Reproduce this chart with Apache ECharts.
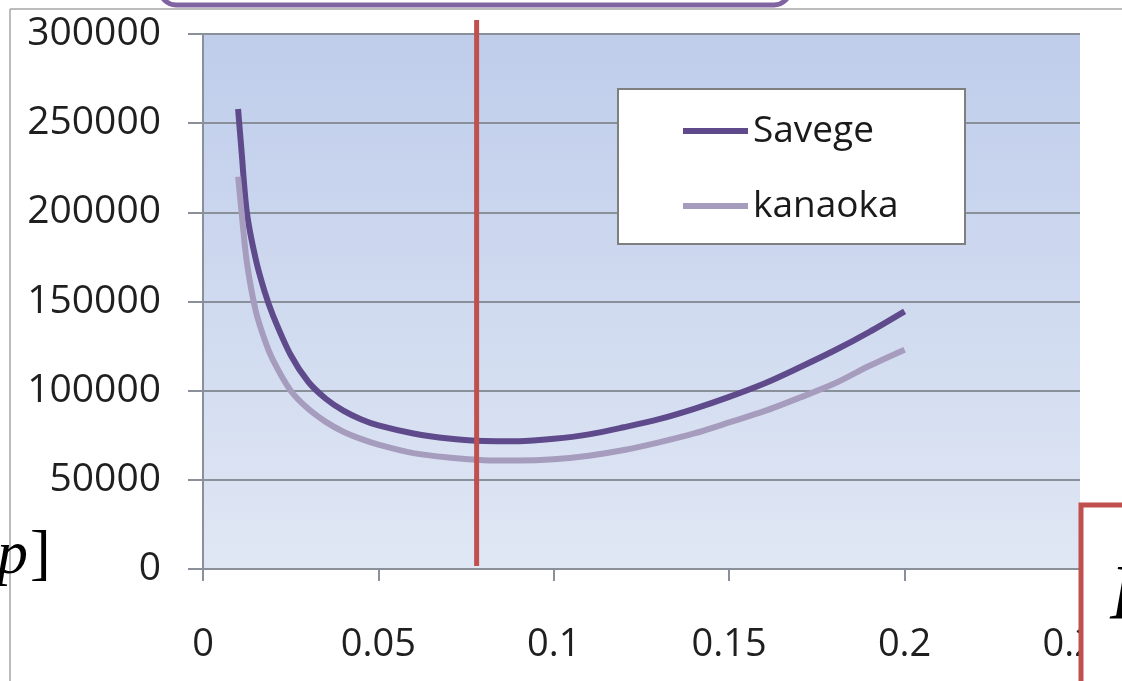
<!DOCTYPE html>
<html>
<head>
<meta charset="utf-8">
<script src="https://cdn.jsdelivr.net/npm/echarts@6/dist/echarts.min.js"></script>
<style>
html,body{margin:0;padding:0;background:#fff;}
#chart{width:1122px;height:681px;}
</style>
</head>
<body>
<div id="chart"></div>
<script>
// ---- data ----
const pValues = [0.01, 0.011, 0.0125, 0.015, 0.0175, 0.02, 0.025, 0.03, 0.035, 0.04, 0.045, 0.05, 0.06, 0.07, 0.08, 0.09, 0.1, 0.11, 0.12, 0.13, 0.14, 0.15, 0.16, 0.17, 0.18, 0.19, 0.2];
const savege = [258000, 234000, 200000, 174000, 156000, 142000, 120000, 105000, 95500, 88800, 84000, 80500, 76000, 73200, 71800, 71700, 73000, 75500, 79500, 84000, 89800, 96500, 104000, 113000, 122500, 133000, 144500];
const kanaoka = [220000, 200000, 172000, 145000, 129000, 117000, 100000, 89800, 82500, 77000, 73000, 69800, 65000, 62500, 61000, 60800, 61500, 63500, 66700, 71000, 76000, 82200, 88500, 96000, 104000, 114000, 123000];
const seriesNames = ['Savege', 'kanaoka'];
const xTicks = [0, 0.05, 0.1, 0.15, 0.2, 0.25];
const yTicks = [0, 50000, 100000, 150000, 200000, 250000, 300000];
const markerX = [0.078];

const pairs = (ys) => pValues.map((x, i) => [x, ys[i]]);

const chart = echarts.init(document.getElementById('chart'), null, {renderer: 'canvas'});
const FONT = '"Open Sans", "Liberation Sans", sans-serif';
const GRIDC = '#8a9099';

const baseGraphics = [
  {id: 'frameTop', type: 'line', z: 0, shape: {x1: 10, y1: 9, x2: 1122, y2: 9}, style: {stroke: '#a6a6a6', lineWidth: 1.5}},
  {id: 'frameLeft', type: 'line', z: 0, shape: {x1: 10, y1: 9, x2: 10, y2: 681}, style: {stroke: '#a6a6a6', lineWidth: 1.5}},
  {id: 'purpleBox', type: 'rect', z: 10, shape: {x: 160, y: -40, width: 630, height: 45, r: 16}, style: {fill: '#fff', stroke: '#8064a2', lineWidth: 5}},
  {id: 'legendBox', type: 'rect', z: 3, shape: {x: 618, y: 89, width: 347, height: 155}, style: {fill: '#fff', stroke: '#7f7f7f', lineWidth: 2}},
  {id: 'redBox', type: 'rect', z: 10, shape: {x: 1081, y: 505, width: 100, height: 250}, style: {fill: '#fff', stroke: '#c0504d', lineWidth: 5}},
  {id: 'bigP', type: 'text', z: 11, x: 1110, y: 597, style: {text: 'P', font: 'italic 78px "Liberation Serif", "DejaVu Serif", serif', fill: '#000', verticalAlign: 'middle'}},
  {id: 'leftP', type: 'text', z: 11, x: -3, y: 557, style: {text: 'p', font: 'italic 62px "Liberation Serif", "DejaVu Serif", serif', fill: '#000', verticalAlign: 'middle'}},
  {id: 'leftBr', type: 'text', z: 11, x: 30, y: 557, style: {text: ']', font: '62px "Liberation Serif", "DejaVu Serif", serif', fill: '#000', verticalAlign: 'middle'}}
];

const option = {
  animation: false,
  backgroundColor: '#fff',
  grid: {
    left: 203, top: 34, right: 42, bottom: 112,
    show: true,
    borderWidth: 0,
    backgroundColor: new echarts.graphic.LinearGradient(0, 0, 0, 1, [
      {offset: 0, color: '#bfcdeb'},
      {offset: 1, color: '#e0e7f4'}
    ])
  },
  xAxis: {
    type: 'value',
    min: xTicks[0], max: xTicks[xTicks.length - 1], interval: xTicks[1] - xTicks[0],
    axisLine: {show: true, onZero: false, lineStyle: {color: GRIDC, width: 2}},
    axisTick: {show: true, length: 12, lineStyle: {color: GRIDC, width: 2}},
    splitLine: {show: false},
    axisLabel: {margin: 57, fontFamily: FONT, fontSize: 38, color: '#1f1f1f', formatter: v => String(v)}
  },
  yAxis: {
    type: 'value',
    min: yTicks[0], max: yTicks[yTicks.length - 1], interval: yTicks[1] - yTicks[0],
    axisLine: {show: true, lineStyle: {color: GRIDC, width: 2}},
    axisTick: {show: true, length: 15, lineStyle: {color: GRIDC, width: 2}},
    splitLine: {show: true, lineStyle: {color: GRIDC, width: 2}},
    axisLabel: {margin: 42, fontFamily: FONT, fontSize: 39, color: '#1f1f1f', formatter: v => String(v)}
  },
  legend: {
    orient: 'vertical', left: 683, top: 111, z: 4, padding: 0,
    itemWidth: 65, itemHeight: 6, itemGap: 35, icon: 'rect',
    textStyle: {fontFamily: FONT, fontSize: 37, color: '#1a1a1a', lineHeight: 40},
    data: seriesNames
  },
  graphic: {elements: baseGraphics},
  series: [
    {name: seriesNames[0], type: 'line', data: pairs(savege), showSymbol: false, smooth: 0.3, z: 2,
     lineStyle: {color: '#5f4a8b', width: 6}, itemStyle: {color: '#5f4a8b'}},
    {name: seriesNames[1], type: 'line', data: pairs(kanaoka), showSymbol: false, smooth: 0.3, z: 2,
     lineStyle: {color: '#a69cbd', width: 6}, itemStyle: {color: '#a69cbd'}}
  ]
};
chart.setOption(option);

// red marker line placed through the library's x scale
const mx = chart.convertToPixel({xAxisIndex: 0}, markerX[0]);
chart.setOption({
  graphic: {elements: baseGraphics.concat([
    {id: 'marker', type: 'line', z: 5, shape: {x1: mx, y1: 20, x2: mx, y2: 566}, style: {stroke: '#c0504d', lineWidth: 5}}
  ])}
});
</script>
</body>
</html>
